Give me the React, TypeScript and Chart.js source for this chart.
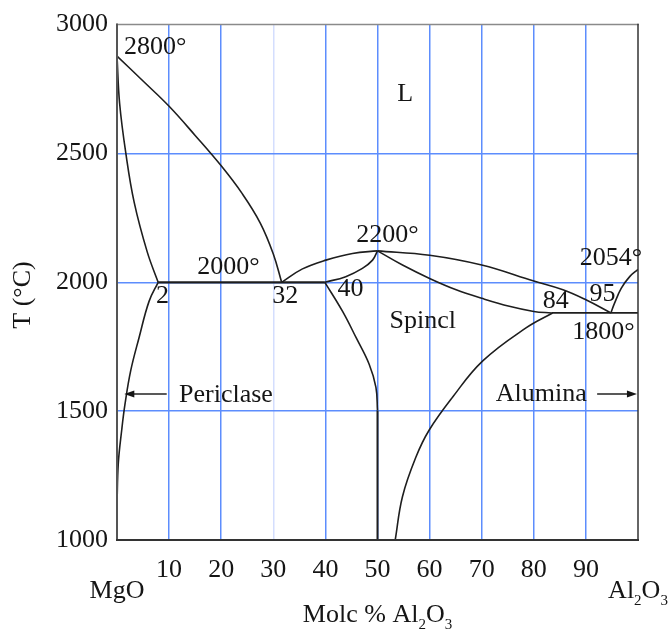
import React, { useEffect, useRef } from 'react';
import { Chart, registerables } from 'chart.js';

Chart.register(...registerables);

// ---- tick values ----
const xTickValues = [0, 10, 20, 30, 40, 50, 60, 70, 80, 90, 100];
const yTickValues = [1000, 1500, 2000, 2500, 3000];

// ---- phase boundaries (x = mole % Al2O3, T = °C) ----
const periclaseLiquidusX = [0, 5, 10, 15, 20, 24, 27.5, 30, 31.6];
const periclaseLiquidusT = [2878, 2781, 2683, 2570, 2452, 2345, 2230, 2110, 2000];

const periclaseSolidusX = [0, 0.5, 1.7, 3.3, 5.8, 7.9];
const periclaseSolidusT = [2878, 2695, 2500, 2310, 2118, 2000];

const periclaseSolvusX = [7.9, 6.15, 4.23, 2.63, 1.54, 0.9, 0.25, 0];
const periclaseSolvusT = [2000, 1926, 1785, 1657, 1528, 1426, 1298, 1140];

const eutectic1X = [7.9, 39.9];
const eutectic1T = [2000, 2000];

const spinelLiquidusLeftX = [31.6, 35.6, 40.1, 45.2, 50];
const spinelLiquidusLeftT = [2000, 2052, 2086, 2112, 2122];

const spinelSolidusLeftX = [39.9, 43.9, 47.1, 49.05, 50];
const spinelSolidusLeftT = [2000, 2022, 2054, 2086, 2122];

const spinelSolvusLeftX = [39.9, 43.3, 45.9, 48.4, 49.7, 50];
const spinelSolvusLeftT = [2000, 1887, 1785, 1682, 1592, 1503];

const spinelStoichX = [50, 50];
const spinelStoichT = [1503, 1000];

const spinelLiquidusRightX = [50, 60, 70, 80, 85.6, 90, 94.8];
const spinelLiquidusRightT = [2122, 2105, 2067, 2005, 1971, 1932, 1881];

const spinelSolidusRightX = [50, 54.8, 60, 65.1, 70, 75.3, 80, 83.4];
const spinelSolidusRightT = [2122, 2067, 2015, 1971, 1938, 1907, 1887, 1881];

const eutectic2X = [83.4, 100];
const eutectic2T = [1881, 1881];

const aluminaLiquidusX = [94.8, 95.5, 96.8, 98.4, 100];
const aluminaLiquidusT = [1881, 1919, 1977, 2022, 2050];

const spinelSolvusRightX = [83.6, 78.5, 70.2, 64.4, 59.9, 57.4, 54.8, 53.4];
const spinelSolvusRightT = [1881, 1823, 1695, 1554, 1426, 1323, 1169, 1000];

// ---- text labels (left x, baseline T) ----
const labelTexts = ['2800°', '2000°', '2', '32', '40', '2200°', 'L', '2054°', '84', '95', '1800°', 'Spincl', 'Periclase', 'Alumina'];
const labelX = [1.34, 15.4, 7.5, 29.8, 42.3, 45.9, 53.8, 88.8, 81.7, 90.7, 87.4, 52.3, 11.9, 72.7];
const labelT = [2887, 2033, 1918, 1918, 1945, 2156, 2703, 2068, 1899, 1926, 1780, 1822, 1534, 1541];

// ---- arrows (from -> to, head at "to") ----
const arrowFromX = [9.4, 92.3];
const arrowToX = [1.4, 99.8];
const arrowT = [1567, 1567];

const pts = (xs: number[], ts: number[]) => xs.map((x, i) => ({ x, y: ts[i] }));

const FONT = '"Liberation Serif", "Times New Roman", serif';
const INK = '#151515';

function drawChem(ctx: CanvasRenderingContext2D, parts: [string, boolean][], cx: number, base: number) {
  const big = `26px ${FONT}`;
  const small = `15px ${FONT}`;
  let total = 0;
  const widths = parts.map(([t, sub]) => {
    ctx.font = sub ? small : big;
    const w = ctx.measureText(t).width;
    total += w;
    return w;
  });
  let x = cx - total / 2;
  ctx.textAlign = 'left';
  ctx.textBaseline = 'alphabetic';
  parts.forEach(([t, sub], i) => {
    ctx.font = sub ? small : big;
    ctx.fillText(t, x, sub ? base + 7 : base);
    x += widths[i];
  });
}

const annotPlugin = {
  id: 'annot',
  afterDraw(chart: any) {
    const { ctx, chartArea: a, scales } = chart;
    const xs = scales.x;
    const ys = scales.y;
    ctx.save();
    // frame
    ctx.lineCap = 'square';
    ctx.strokeStyle = '#8a8a8a';
    ctx.lineWidth = 1.5;
    ctx.beginPath(); ctx.moveTo(a.left, a.top); ctx.lineTo(a.right, a.top); ctx.stroke();
    ctx.strokeStyle = '#555';
    ctx.lineWidth = 2;
    ctx.beginPath(); ctx.moveTo(a.left, a.top); ctx.lineTo(a.left, a.bottom); ctx.stroke();
    ctx.strokeStyle = '#333';
    ctx.beginPath(); ctx.moveTo(a.left, a.bottom); ctx.lineTo(a.right, a.bottom); ctx.stroke();
    ctx.lineWidth = 1.5;
    ctx.beginPath(); ctx.moveTo(a.right, a.top); ctx.lineTo(a.right, a.bottom); ctx.stroke();

    // labels
    ctx.fillStyle = INK;
    ctx.font = `26px ${FONT}`;
    ctx.textAlign = 'left';
    ctx.textBaseline = 'alphabetic';
    labelTexts.forEach((t, i) => {
      ctx.fillText(t, xs.getPixelForValue(labelX[i]), ys.getPixelForValue(labelT[i]));
    });

    // arrows
    ctx.strokeStyle = '#222';
    ctx.lineWidth = 1.5;
    arrowFromX.forEach((fx, i) => {
      const x0 = xs.getPixelForValue(fx);
      const x1 = xs.getPixelForValue(arrowToX[i]);
      const yy = ys.getPixelForValue(arrowT[i]);
      const dir = Math.sign(x1 - x0);
      ctx.beginPath(); ctx.moveTo(x0, yy); ctx.lineTo(x1 - dir * 6, yy); ctx.stroke();
      ctx.beginPath();
      ctx.moveTo(x1, yy);
      ctx.lineTo(x1 - dir * 10, yy - 3.5);
      ctx.lineTo(x1 - dir * 10, yy + 3.5);
      ctx.closePath();
      ctx.fill();
    });

    // component names under the axis ends
    ctx.font = `26px ${FONT}`;
    ctx.textAlign = 'center';
    ctx.fillText('MgO', xs.getPixelForValue(0), a.bottom + 58);
    drawChem(ctx, [['Al', false], ['2', true], ['O', false], ['3', true]], xs.getPixelForValue(100), a.bottom + 58);
    // x axis title
    drawChem(ctx, [['Molc % Al', false], ['2', true], ['O', false], ['3', true]], (a.left + a.right) / 2, a.bottom + 82);

    // y axis title
    ctx.save();
    ctx.translate(30, 295);
    ctx.rotate(-Math.PI / 2);
    ctx.font = `26px ${FONT}`;
    ctx.textAlign = 'center';
    ctx.textBaseline = 'alphabetic';
    ctx.fillText('T (°C)', 0, 0);
    ctx.restore();

    ctx.restore();
  },
};

export default function App() {
  const ref = useRef<HTMLCanvasElement | null>(null);
  useEffect(() => {
    if (!ref.current) return;
    const line = (xs: number[], ts: number[], tension: number, width = 1.6) => ({
      data: pts(xs, ts),
      borderColor: '#1e1e1e',
      backgroundColor: '#1e1e1e',
      borderWidth: width,
      pointRadius: 0,
      pointHoverRadius: 0,
      tension,
      fill: false,
    });
    const chart = new Chart(ref.current, {
      type: 'line',
      data: {
        datasets: [
          line(periclaseLiquidusX, periclaseLiquidusT, 0.4),
          line(periclaseSolidusX, periclaseSolidusT, 0.4),
          line(periclaseSolvusX, periclaseSolvusT, 0.4),
          line(eutectic1X, eutectic1T, 0, 2.2),
          line(spinelLiquidusLeftX, spinelLiquidusLeftT, 0.4),
          line(spinelSolidusLeftX, spinelSolidusLeftT, 0.4),
          line(spinelSolvusLeftX, spinelSolvusLeftT, 0.4),
          line(spinelStoichX, spinelStoichT, 0, 2),
          line(spinelLiquidusRightX, spinelLiquidusRightT, 0.4),
          line(spinelSolidusRightX, spinelSolidusRightT, 0.4),
          line(eutectic2X, eutectic2T, 0, 1.8),
          line(aluminaLiquidusX, aluminaLiquidusT, 0.4),
          line(spinelSolvusRightX, spinelSolvusRightT, 0.4),
        ] as any,
      },
      options: {
        animation: false,
        responsive: true,
        maintainAspectRatio: false,
        events: [],
        layout: { padding: { top: 21, right: 34, left: 0, bottom: 0 } },
        plugins: { legend: { display: false }, tooltip: { enabled: false } },
        scales: {
          x: {
            type: 'linear',
            min: 0,
            max: 100,
            afterFit: (s: any) => { s.height = 90; },
            afterBuildTicks: (s: any) => { s.ticks = xTickValues.map((v) => ({ value: v })); },
            border: { display: false },
            grid: {
              drawTicks: false,
              lineWidth: 1.5,
              color: (c: any) => {
                const v = c.tick ? c.tick.value : null;
                if (v === 0 || v === 100) return 'rgba(0,0,0,0)';
                if (v === 30) return '#d4defe';
                return '#5d8dfd';
              },
            },
            ticks: {
              autoSkip: false,
              maxRotation: 0,
              padding: 15,
              color: INK,
              font: { family: FONT, size: 26 },
              callback: (v: any) => (v === 0 || v === 100 ? '' : String(v)),
            },
          },
          y: {
            type: 'linear',
            min: 1000,
            max: 3000,
            afterFit: (s: any) => { s.width = 117; },
            afterBuildTicks: (s: any) => { s.ticks = yTickValues.map((v) => ({ value: v })); },
            border: { display: false },
            grid: {
              drawTicks: false,
              lineWidth: 1.5,
              color: (c: any) => {
                const v = c.tick ? c.tick.value : null;
                if (v === 1000 || v === 3000) return 'rgba(0,0,0,0)';
                return '#5d8dfd';
              },
            },
            ticks: {
              padding: 9,
              color: INK,
              font: { family: FONT, size: 26 },
              callback: (v: any) => String(v),
            },
          },
        },
      },
      plugins: [annotPlugin],
    } as any);
    return () => chart.destroy();
  }, []);

  return (
    <div style={{ position: 'fixed', left: 0, top: 0, width: 672, height: 630, background: '#fff' }}>
      <canvas ref={ref} />
    </div>
  );
}
